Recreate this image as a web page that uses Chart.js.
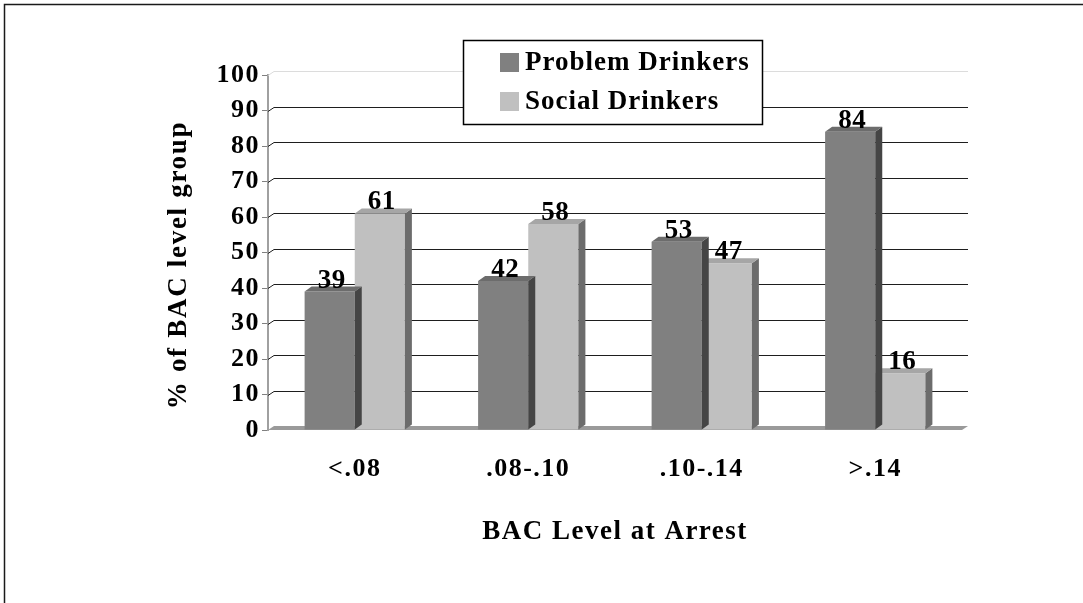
<!DOCTYPE html>
<html>
<head>
<meta charset="utf-8">
<script src="https://cdn.jsdelivr.net/npm/chart.js@4/dist/chart.umd.min.js"></script>
<style>
  html, body { margin: 0; padding: 0; background: #fff; }
  canvas { display: block; }
</style>
</head>
<body>
<canvas id="c" width="1083" height="603"></canvas>
<script>
// BAC level groups and the share of each drinker group in them (%)
const categories = ['<.08', '.08-.10', '.10-.14', '>.14'];
const problemDrinkers = [39, 42, 53, 84];
const socialDrinkers = [61, 58, 47, 16];
const seriesNames = ['Problem Drinkers', 'Social Drinkers'];
const yTitle = '% of BAC level group';
const xTitle = 'BAC Level at Arrest';
const yMin = 0;
const yMax = 100;
const yStep = 10;

const FONT = "'Liberation Serif', 'Times New Roman', serif";
const SPACING = '1.5px';
const frontColors = ['#808080', '#c0c0c0'];
const sideColors = ['#454545', '#6c6c6c'];
const topColors = ['#6c6c6c', '#a6a6a6'];
const DEPTH_X = 7, DEPTH_Y = 5;   // bar extrusion
const WALL_X = 6, WALL_Y = 4;     // back wall offset

const bars3d = {
  id: 'bars3d',
  beforeInit(chart) { chart.ctx.letterSpacing = SPACING; },
  beforeUpdate(chart) { chart.ctx.letterSpacing = SPACING; },
  beforeDraw(chart) {
    const ctx = chart.ctx;
    ctx.letterSpacing = SPACING;
    ctx.save();
    ctx.fillStyle = '#fff';
    ctx.fillRect(0, 0, chart.width, chart.height);
    // page frame
    ctx.strokeStyle = '#1a1a1a';
    ctx.lineWidth = 1.5;
    ctx.beginPath();
    ctx.moveTo(4.5, chart.height + 5);
    ctx.lineTo(4.5, 4.5);
    ctx.lineTo(chart.width + 5, 4.5);
    ctx.stroke();
    // vertical axis title, centred a little below the plot middle
    ctx.translate(179, 265);
    ctx.rotate(-Math.PI / 2);
    ctx.fillStyle = '#000';
    ctx.font = 'bold 27px ' + FONT;
    ctx.letterSpacing = '1.7px';
    ctx.textAlign = 'center';
    ctx.textBaseline = 'middle';
    ctx.fillText(yTitle, 0, 0);
    ctx.restore();
  },
  beforeDatasetsDraw(chart) {
    const { ctx, chartArea: a, scales: { y } } = chart;
    ctx.save();
    // floor
    ctx.fillStyle = '#9a9a9a';
    ctx.beginPath();
    ctx.moveTo(a.left, a.bottom);
    ctx.lineTo(a.right, a.bottom);
    ctx.lineTo(a.right + WALL_X, a.bottom - WALL_Y);
    ctx.lineTo(a.left + WALL_X, a.bottom - WALL_Y);
    ctx.closePath();
    ctx.fill();
    // back wall gridlines
    y.ticks.forEach(t => {
      if (t.value === yMin) return;
      const py = Math.round(y.getPixelForValue(t.value)) + 0.5;
      ctx.strokeStyle = t.value === yMax ? '#dcdcdc' : '#1e1e1e';
      ctx.lineWidth = 1;
      ctx.beginPath();
      ctx.moveTo(a.left, py);
      ctx.lineTo(a.left + WALL_X, py - WALL_Y);
      ctx.lineTo(a.right + WALL_X, py - WALL_Y);
      ctx.stroke();
    });
    ctx.restore();
  },
  afterDatasetDraw(chart, args) {
    const ctx = chart.ctx;
    const i = args.index;
    ctx.save();
    args.meta.data.forEach(el => {
      const { x, y, base, width } = el.getProps(['x', 'y', 'base', 'width'], true);
      const l = x - width / 2, r = x + width / 2;
      // side face
      ctx.fillStyle = sideColors[i];
      ctx.beginPath();
      ctx.moveTo(r, y);
      ctx.lineTo(r + DEPTH_X, y - DEPTH_Y);
      ctx.lineTo(r + DEPTH_X, base - DEPTH_Y);
      ctx.lineTo(r, base);
      ctx.closePath();
      ctx.fill();
      // top face
      ctx.fillStyle = topColors[i];
      ctx.beginPath();
      ctx.moveTo(l, y);
      ctx.lineTo(r, y);
      ctx.lineTo(r + DEPTH_X, y - DEPTH_Y);
      ctx.lineTo(l + DEPTH_X, y - DEPTH_Y);
      ctx.closePath();
      ctx.fill();
    });
    ctx.restore();
  },
  afterDatasetsDraw(chart) {
    const ctx = chart.ctx;
    ctx.save();
    ctx.fillStyle = '#000';
    ctx.font = 'bold 27px ' + FONT;
    ctx.letterSpacing = '0.5px';
    ctx.textAlign = 'center';
    ctx.textBaseline = 'alphabetic';
    chart.data.datasets.forEach((ds, i) => {
      chart.getDatasetMeta(i).data.forEach((el, j) => {
        ctx.fillText(String(ds.data[j]), el.x + 2, el.y - 4);
      });
    });
    ctx.restore();
  },
  afterDraw(chart) {
    // legend box
    const ctx = chart.ctx;
    const bx = 463.5, by = 40.5, bw = 299, bh = 84;
    ctx.save();
    ctx.fillStyle = '#fff';
    ctx.fillRect(bx, by, bw, bh);
    ctx.strokeStyle = '#000';
    ctx.lineWidth = 1.5;
    ctx.strokeRect(bx, by, bw, bh);
    ctx.font = 'bold 27px ' + FONT;
    ctx.letterSpacing = '1px';
    ctx.textBaseline = 'middle';
    ctx.textAlign = 'left';
    const rows = [62.5, 101.5];
    chart.data.datasets.forEach((ds, i) => {
      ctx.fillStyle = ds.backgroundColor;
      ctx.fillRect(500, rows[i] - 9.5, 19, 19);
      ctx.fillStyle = '#000';
      ctx.fillText(ds.label, 525, rows[i] + 1);
    });
    ctx.restore();
  }
};

new Chart(document.getElementById('c'), {
  type: 'bar',
  data: {
    labels: categories,
    datasets: [
      { label: seriesNames[0], data: problemDrinkers, backgroundColor: frontColors[0] },
      { label: seriesNames[1], data: socialDrinkers, backgroundColor: frontColors[1] }
    ]
  },
  options: {
    responsive: false,
    animation: false,
    devicePixelRatio: 1,
    layout: { padding: { left: 150, top: 75, right: 121, bottom: 0 } },
    datasets: { bar: { categoryPercentage: 0.578, barPercentage: 1.0, borderWidth: 0 } },
    plugins: { legend: { display: false }, tooltip: { enabled: false } },
    scales: {
      x: {
        grid: { display: false, drawTicks: false },
        border: { display: false },
        ticks: { color: '#000', font: { family: FONT, size: 26, weight: 'bold' }, padding: 24 },
        title: {
          display: true, text: xTitle, color: '#000',
          font: { family: FONT, size: 27, weight: 'bold' },
          padding: { top: 0, bottom: 55 }
        },
        afterFit(s) { s.height = 173; }
      },
      y: {
        min: yMin, max: yMax,
        ticks: { stepSize: yStep, color: '#000', font: { family: FONT, size: 26, weight: 'bold' }, padding: 2 },
        grid: { drawOnChartArea: false, drawTicks: true, tickLength: 6, color: '#808080' },
        border: { display: true, color: '#a0a0a0', width: 2 },
        afterFit(s) { s.width = 118; }
      }
    }
  },
  plugins: [bars3d]
});
</script>
</body>
</html>
